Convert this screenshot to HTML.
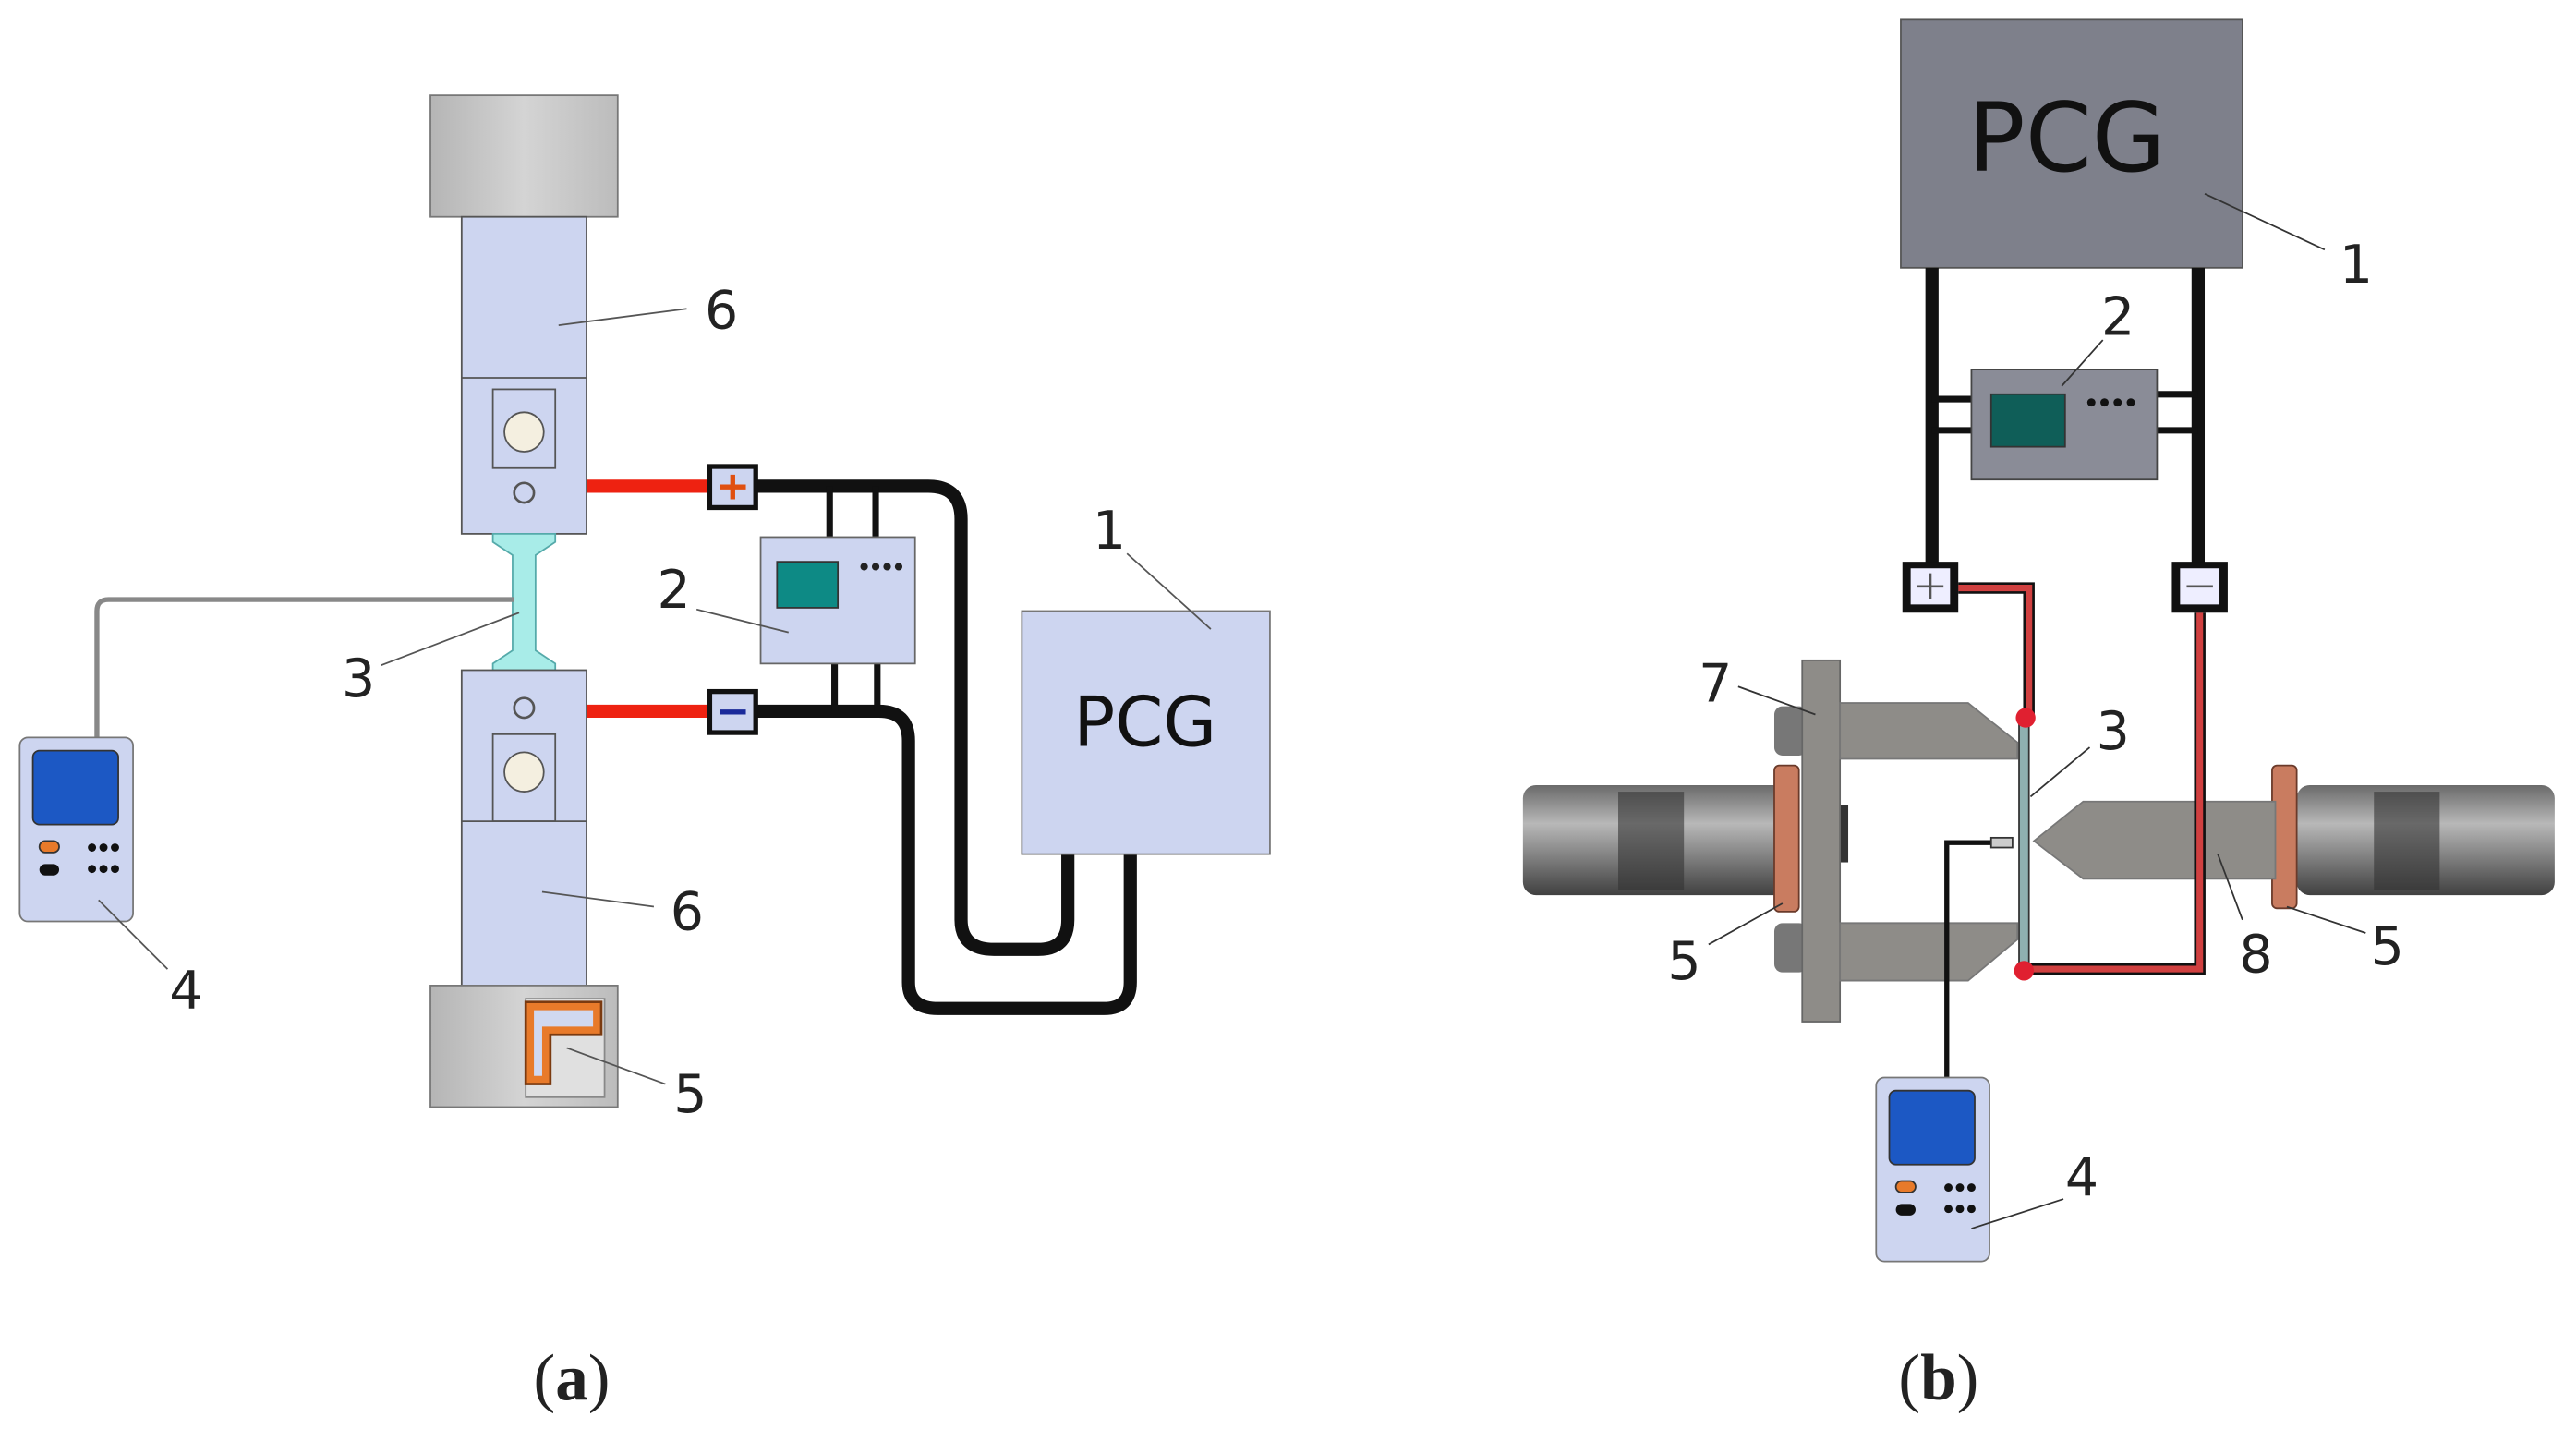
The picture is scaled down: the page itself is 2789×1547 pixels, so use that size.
<!DOCTYPE html>
<html><head><meta charset="utf-8"><style>html,body{margin:0;padding:0;background:#fff}svg{display:block}</style></head>
<body>
<svg width="2789" height="1547" viewBox="0 0 1568 870" preserveAspectRatio="none" xmlns="http://www.w3.org/2000/svg">
<defs>
<linearGradient id="cap" x1="0" x2="1"><stop offset="0" stop-color="#b5b5b5"/><stop offset="0.5" stop-color="#d4d4d4"/><stop offset="1" stop-color="#bcbcbc"/></linearGradient>
<linearGradient id="roll" x1="0" y1="0" x2="0" y2="1"><stop offset="0" stop-color="#6a6a6a"/><stop offset="0.35" stop-color="#b8b8b8"/><stop offset="0.6" stop-color="#8a8a8a"/><stop offset="1" stop-color="#404040"/></linearGradient>
</defs>
<g font-family="'DejaVu Sans','Liberation Sans',sans-serif" font-size="32" fill="#222">
<!-- Panel a -->
<rect x="262" y="58" width="114" height="74" fill="url(#cap)" stroke="#777"/>
<rect x="281" y="132" width="76" height="193" fill="#cdd5f0" stroke="#555"/>
<line x1="281" y1="230" x2="357" y2="230" stroke="#555"/>
<rect x="300" y="237" width="38" height="48" fill="#cdd5f0" stroke="#555"/>
<circle cx="319" cy="263" r="12" fill="#f4efe0" stroke="#555"/>
<circle cx="319" cy="300" r="6" fill="none" stroke="#555" stroke-width="1.5"/>
<path d="M300 325 H338 V330 L326 338 V396 L338 404 V408 H300 V404 L312 396 V338 L300 330 Z" fill="#a8ece8" stroke="#5aa" stroke-width="1"/>
<rect x="281" y="408" width="76" height="192" fill="#cdd5f0" stroke="#555"/>
<circle cx="319" cy="431" r="6" fill="none" stroke="#555" stroke-width="1.5"/>
<rect x="300" y="447" width="38" height="53" fill="#cdd5f0" stroke="#555"/>
<circle cx="319" cy="470" r="12" fill="#f4efe0" stroke="#555"/>
<line x1="281" y1="500" x2="357" y2="500" stroke="#555"/>
<rect x="262" y="600" width="114" height="74" fill="url(#cap)" stroke="#777"/>
<rect x="320" y="608" width="48" height="60" fill="#e0e0e0" stroke="#888"/>
<path d="M320 610 H366 V630 H335 V660 H320 Z" fill="#e87a2a" stroke="#7a3a10" stroke-width="1.5"/>
<path d="M325 615 H361 V625 H330 V655 H325 Z" fill="#d0d8f0"/>
<line x1="357" y1="296" x2="432" y2="296" stroke="#e21" stroke-width="8"/>
<line x1="357" y1="433" x2="432" y2="433" stroke="#e21" stroke-width="8"/>
<path d="M460 296 H565 Q585 296 585 316 V560 Q585 578 605 578 H632 Q650 578 650 560 V520" fill="none" stroke="#111" stroke-width="8"/>
<path d="M460 433 H535 Q553 433 553 451 V598 Q553 614 571 614 H672 Q688 614 688 598 V520" fill="none" stroke="#111" stroke-width="8"/>
<line x1="505" y1="296" x2="505" y2="327" stroke="#111" stroke-width="4"/>
<line x1="533" y1="296" x2="533" y2="327" stroke="#111" stroke-width="4"/>
<line x1="508" y1="404" x2="508" y2="433" stroke="#111" stroke-width="4"/>
<line x1="534" y1="404" x2="534" y2="433" stroke="#111" stroke-width="4"/>
<rect x="432" y="284" width="28" height="25" fill="#cdd5f0" stroke="#111" stroke-width="3"/>
<path d="M438 296.5 H454 M446 289 V304" stroke="#e05010" stroke-width="3"/>
<rect x="432" y="421" width="28" height="25" fill="#cdd5f0" stroke="#111" stroke-width="3"/>
<path d="M438 433.5 H454" stroke="#1a2a9a" stroke-width="3"/>
<rect x="463" y="327" width="94" height="77" fill="#cdd5f0" stroke="#666"/>
<rect x="473" y="342" width="37" height="28" fill="#0d8a85" stroke="#333"/>
<g fill="#222"><circle cx="526" cy="345" r="2.3"/><circle cx="533" cy="345" r="2.3"/><circle cx="540" cy="345" r="2.3"/><circle cx="547" cy="345" r="2.3"/></g>
<rect x="622" y="372" width="151" height="148" fill="#cdd5f0" stroke="#777"/>
<text x="697" y="454" text-anchor="middle" font-size="42" fill="#111">PCG</text>
<path d="M59 449 V372 Q59 365 66 365 H313" fill="none" stroke="#888" stroke-width="3"/>
<rect x="12" y="449" width="69" height="112" rx="5" fill="#cdd5f0" stroke="#777"/>
<rect x="20" y="457" width="52" height="45" rx="4" fill="#1c58c4" stroke="#333"/>
<rect x="24" y="512" width="12" height="7" rx="3.5" fill="#e87a2a" stroke="#333"/>
<rect x="24" y="526" width="12" height="7" rx="3.5" fill="#111"/>
<g fill="#111"><circle cx="56" cy="516" r="2.5"/><circle cx="63" cy="516" r="2.5"/><circle cx="70" cy="516" r="2.5"/><circle cx="56" cy="529" r="2.5"/><circle cx="63" cy="529" r="2.5"/><circle cx="70" cy="529" r="2.5"/></g>
<g stroke="#555" stroke-width="1"><line x1="340" y1="198" x2="418" y2="188"/><line x1="330" y1="543" x2="398" y2="552"/><line x1="232" y1="405" x2="316" y2="373"/><line x1="424" y1="371" x2="480" y2="385"/><line x1="686" y1="337" x2="737" y2="383"/><line x1="60" y1="548" x2="102" y2="590"/><line x1="345" y1="638" x2="405" y2="660"/></g>
<text x="429" y="200">6</text><text x="408" y="566">6</text><text x="208" y="424">3</text><text x="400" y="370">2</text><text x="665" y="334">1</text><text x="103" y="614">4</text><text x="410" y="677">5</text>
<text x="348" y="852" text-anchor="middle" font-family="'Liberation Serif',serif" font-size="40">(<tspan font-weight="bold">a</tspan>)</text>

<!-- Panel b -->
<rect x="1157" y="12" width="208" height="151" fill="#7e808b" stroke="#555"/>
<text x="1258" y="104" text-anchor="middle" font-size="58" fill="#111">PCG</text>
<line x1="1176" y1="163" x2="1176" y2="345" stroke="#111" stroke-width="8"/>
<line x1="1338" y1="163" x2="1338" y2="345" stroke="#111" stroke-width="8"/>
<g stroke="#111" stroke-width="4"><line x1="1176" y1="243" x2="1200" y2="243"/><line x1="1176" y1="262" x2="1200" y2="262"/><line x1="1313" y1="240" x2="1338" y2="240"/><line x1="1313" y1="262" x2="1338" y2="262"/></g>
<rect x="1200" y="225" width="113" height="67" fill="#8a8c97" stroke="#444"/>
<rect x="1212" y="240" width="45" height="32" fill="#0f5e58" stroke="#333"/>
<g fill="#111"><circle cx="1273" cy="245" r="2.5"/><circle cx="1281" cy="245" r="2.5"/><circle cx="1289" cy="245" r="2.5"/><circle cx="1297" cy="245" r="2.5"/></g>
<!-- rollers -->
<rect x="927" y="478" width="163" height="67" rx="8" fill="url(#roll)"/>
<rect x="985" y="482" width="40" height="60" fill="#333" opacity="0.6"/>
<rect x="1398" y="478" width="157" height="67" rx="8" fill="url(#roll)"/>
<rect x="1445" y="482" width="40" height="60" fill="#333" opacity="0.6"/>
<rect x="1080" y="466" width="15" height="89" rx="3" fill="#c97c60" stroke="#6a3a2a"/>
<rect x="1383" y="466" width="15" height="87" rx="3" fill="#c97c60" stroke="#6a3a2a"/>
<rect x="1080" y="430" width="20" height="30" rx="5" fill="#777"/>
<rect x="1080" y="562" width="20" height="30" rx="5" fill="#777"/>
<rect x="1117" y="490" width="8" height="35" fill="#333"/>
<rect x="1097" y="402" width="23" height="220" fill="#8e8c88" stroke="#666"/>
<path d="M1120 428 H1198 L1228 452 V462 H1120 Z" fill="#8e8c88" stroke="#777"/>
<path d="M1120 562 H1228 V572 L1198 597 H1120 Z" fill="#8e8c88" stroke="#777"/>
<path d="M1238 512 L1268 488 H1385 V535 H1268 Z" fill="#8e8c88" stroke="#777"/>
<rect x="1229" y="437" width="6" height="154" fill="#8fb0b0" stroke="#333" stroke-width="1"/>
<path d="M1192 358 H1235 V437" fill="none" stroke="#111" stroke-width="7"/>
<path d="M1192 358 H1235 V437" fill="none" stroke="#d04040" stroke-width="4"/>
<path d="M1339 373 V590 H1232" fill="none" stroke="#111" stroke-width="7"/>
<path d="M1339 373 V590 H1232" fill="none" stroke="#d04040" stroke-width="4"/>
<circle cx="1233" cy="437" r="6" fill="#e02030"/>
<circle cx="1232" cy="591" r="6" fill="#e02030"/>
<rect x="1158" y="342" width="34" height="31" fill="#111"/>
<rect x="1163" y="346" width="24" height="22" fill="#eef"/>
<path d="M1167 357 H1183 M1175 349 V365" stroke="#555" stroke-width="1.5"/>
<rect x="1322" y="342" width="34" height="31" fill="#111"/>
<rect x="1327" y="346" width="24" height="22" fill="#eef"/>
<path d="M1331 357 H1347" stroke="#555" stroke-width="1.5"/>
<path d="M1185 656 V513 H1213" fill="none" stroke="#111" stroke-width="3"/>
<rect x="1212" y="510" width="13" height="6" fill="#ccc" stroke="#333" stroke-width="1"/>
<rect x="1142" y="656" width="69" height="112" rx="5" fill="#cdd5f0" stroke="#777"/>
<rect x="1150" y="664" width="52" height="45" rx="4" fill="#1c58c4" stroke="#333"/>
<rect x="1154" y="719" width="12" height="7" rx="3.5" fill="#e87a2a" stroke="#333"/>
<rect x="1154" y="733" width="12" height="7" rx="3.5" fill="#111"/>
<g fill="#111"><circle cx="1186" cy="723" r="2.5"/><circle cx="1193" cy="723" r="2.5"/><circle cx="1200" cy="723" r="2.5"/><circle cx="1186" cy="736" r="2.5"/><circle cx="1193" cy="736" r="2.5"/><circle cx="1200" cy="736" r="2.5"/></g>
<g stroke="#333" stroke-width="1"><line x1="1342" y1="118" x2="1415" y2="152"/><line x1="1255" y1="235" x2="1280" y2="207"/><line x1="1236" y1="485" x2="1272" y2="455"/><line x1="1058" y1="418" x2="1105" y2="435"/><line x1="1040" y1="575" x2="1085" y2="550"/><line x1="1350" y1="520" x2="1365" y2="560"/><line x1="1392" y1="552" x2="1440" y2="568"/><line x1="1200" y1="748" x2="1256" y2="730"/></g>
<text x="1424" y="172">1</text><text x="1279" y="204">2</text><text x="1276" y="456">3</text><text x="1034" y="427">7</text><text x="1015" y="596">5</text><text x="1363" y="592">8</text><text x="1443" y="587">5</text><text x="1257" y="728">4</text>
<text x="1180" y="852" text-anchor="middle" font-family="'Liberation Serif',serif" font-size="40">(<tspan font-weight="bold">b</tspan>)</text>
</g>
</svg>
</body></html>
